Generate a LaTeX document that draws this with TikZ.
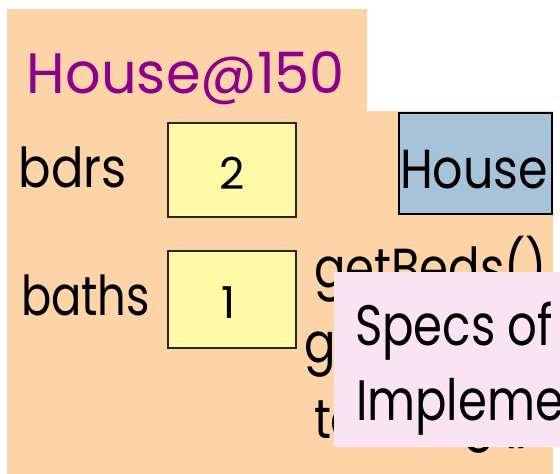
\documentclass[tikz,border=0pt]{standalone}
\usepackage{fontspec}
\setmainfont{Poppins}
\usepackage{graphicx}
\definecolor{orangebg}{RGB}{253,212,168}
\definecolor{valyellow}{RGB}{255,250,168}
\definecolor{classblue}{RGB}{167,195,217}
\definecolor{notepink}{RGB}{249,228,241}
\definecolor{titlepurple}{RGB}{140,0,140}
\newlength\tmpw
\newlength\tmpv
\newcommand\bigfont{\fontsize{55}{60}\selectfont}
\newcommand\notefont{\fontsize{57}{62}\selectfont}
\newcommand\numfont{\fontsize{44}{48}\selectfont}
\newcommand\titlefont{\fontsize{57}{62}\selectfont}
\tikzset{
  txt/.style={inner sep=0pt, outer sep=0pt, font=\bigfont},
  valbox/.style={draw=black!85, line width=1.5pt, fill=valyellow, anchor=north west, inner sep=0pt},
  classbox/.style={draw=black, line width=2pt, fill=classblue, anchor=north west, inner sep=0pt},
  notebox/.style={fill=notepink, anchor=north west, inner sep=0pt}
}
\begin{document}
\settowidth\tmpw{\bigfont getBeds()}%
\pgfmathsetmacro\msc{233/\tmpw}%
\settowidth\tmpv{\notefont baths}%
\pgfmathsetmacro\nsc{1.04*129/\tmpv}%
\begin{tikzpicture}[x=1pt,y=-1pt]
\useasboundingbox (0,0) rectangle (560,474);
\clip (0,0) rectangle (560,474);
\fill[orangebg] (7,9) -- (367,9) -- (367,111) -- (553,111) -- (553,474) -- (7,474) -- cycle;
% boxes
\node[valbox, minimum width=128pt, minimum height=94pt] (bdrsbox) at (167,122) {};
\node[valbox, minimum width=128pt, minimum height=97pt] (bathsbox) at (167,250) {};
\node[classbox, minimum width=153pt, minimum height=101pt] (classbox) at (398,112) {};
% texts
\node[txt, font=\titlefont, text=titlepurple, anchor=base west] (title) at (27,93) {\resizebox{318pt}{\height}{House@150}};
\node[txt, anchor=base west] (bdrs) at (19,187) {\resizebox{108pt}{\height}{bdrs}};
\node[txt, anchor=base west] (baths) at (21,315) {\resizebox{129pt}{\height}{baths}};
\node[txt, font=\numfont, anchor=base] (two) at (232,189) {2};
\node[txt, font=\numfont, anchor=base] (one) at (229,318) {1};
\node[txt, anchor=base west] (house) at (400,188) {\resizebox{148pt}{\height}{House}};
% methods
\node[txt, anchor=base west] (m1) at (314,287) {\scalebox{\msc}[1]{getBeds()}};
\node[txt, anchor=base west] (m2) at (304,362) {\scalebox{\msc}[1]{getBaths()}};
\node[txt, anchor=base west] (m3) at (314,438) {\scalebox{\msc}[1]{toString()}};
% note
\node[notebox, minimum width=240pt, minimum height=175pt] (note) at (334,272) {};
\node[txt, font=\notefont, anchor=base west] (spec1) at (355,345) {\scalebox{\nsc}[1]{Specs of}};
\node[txt, font=\notefont, anchor=base west] (spec2) at (356,420) {\scalebox{\nsc}[1]{Impleme}};
\end{tikzpicture}
\end{document}
